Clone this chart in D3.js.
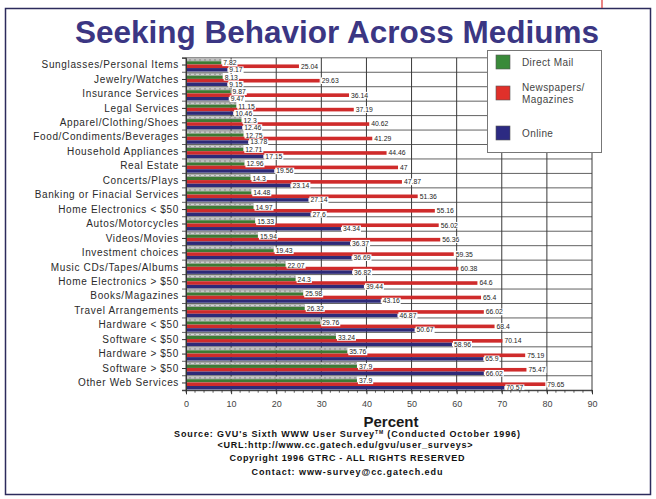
<!DOCTYPE html>
<html>
<head>
<meta charset="utf-8">
<script src="https://cdn.jsdelivr.net/npm/d3@7"></script>
<style>
  html, body { margin: 0; padding: 0; background: #fff; }
  svg { display: block; font-family: Arial, "Liberation Sans", sans-serif; }
</style>
</head>
<body>
<svg id="chart" width="656" height="499"></svg>
<script>
// Survey categories, top to bottom
const categories = [
  "Sunglasses/Personal Items", "Jewelry/Watches", "Insurance Services", "Legal Services",
  "Apparel/Clothing/Shoes", "Food/Condiments/Beverages", "Household Appliances", "Real Estate",
  "Concerts/Plays", "Banking or Finacial Services", "Home Electronics < $50", "Autos/Motorcycles",
  "Videos/Movies", "Investment choices", "Music CDs/Tapes/Albums", "Home Electronics > $50",
  "Books/Magazines", "Travel Arrangements", "Hardware < $50", "Software < $50",
  "Hardware > $50", "Software > $50", "Other Web Services"
];
// Percent of respondents seeking information in each medium
const directMail = [7.82, 8.13, 9.87, 11.15, 12.3, 12.75, 12.71, 12.96, 14.3, 14.48, 14.97, 15.33,
  15.94, 19.43, 22.07, 24.3, 25.98, 26.32, 29.76, 33.24, 35.76, 37.9, 37.9];
const newspapers = [25.04, 29.63, 36.14, 37.19, 40.62, 41.29, 44.46, 47, 47.87, 51.36, 55.16, 56.02,
  56.36, 59.35, 60.38, 64.6, 65.4, 66.02, 68.4, 70.14, 75.19, 75.47, 79.65];
const online = [9.17, 9.15, 9.47, 10.46, 12.46, 13.78, 17.15, 19.56, 23.14, 27.14, 27.6, 34.34,
  36.37, 36.69, 36.82, 39.44, 43.16, 46.87, 50.67, 58.96, 65.9, 66.02, 70.57];
const xTicks = [0, 10, 20, 30, 40, 50, 60, 70, 80, 90];
const seriesNames = ["Direct Mail", "Newspapers/\nMagazines", "Online"];

const colors = { mail: "#3d7a35", paper: "#cf2b2b", online: "#2d2a78", face: "#a3a3a3" };

const svg = d3.select("#chart");

// outer frame
svg.append("rect").attr("x", 5.5).attr("y", 8.5).attr("width", 645).attr("height", 486)
  .attr("fill", "#fff").attr("stroke", "#2c2b5c").attr("stroke-width", 1.5);
svg.append("line").attr("x1", 602).attr("x2", 602).attr("y1", 0).attr("y2", 8)
  .attr("stroke", "#d33").attr("stroke-width", 1.2);

// title
svg.append("text").attr("x", 337).attr("y", 43).attr("text-anchor", "middle")
  .attr("font-size", 31.5).attr("font-weight", "bold").attr("fill", "#3b3683")
  .text("Seeking Behavior Across Mediums");

const x = d3.scaleLinear().domain([0, 90]).range([186, 592]);
const y = d3.scaleBand().domain(categories).range([57.8, 390.2]).padding(0);
const bw = y.bandwidth();

// sub-bar layout within each category band (fractions of band height)
const seg = { face: [0.05, 0.24], mail: [0.24, 0.46], paper: [0.46, 0.71], online: [0.71, 0.95] };

const plot = svg.append("g");

// grid
plot.selectAll("line.vg").data(xTicks).join("line")
  .attr("x1", d => x(d)).attr("x2", d => x(d))
  .attr("y1", y.range()[0]).attr("y2", y.range()[1])
  .attr("stroke", "#3a3a3a").attr("stroke-width", 1);
const bounds = categories.map(c => y(c)).concat([y.range()[1]]);
plot.selectAll("line.hg").data(bounds).join("line")
  .attr("x1", x(0) - 4).attr("x2", x(90))
  .attr("y1", d => d).attr("y2", d => d)
  .attr("stroke", "#3a3a3a").attr("stroke-width", 0.8);

// bars
const rows = categories.map((c, i) => ({ c, mail: directMail[i], paper: newspapers[i], online: online[i] }));
function bars(key, fill, valueKey) {
  plot.append("g").selectAll("rect").data(rows).join("rect")
    .attr("x", x(0))
    .attr("y", d => y(d.c) + bw * seg[key][0])
    .attr("width", d => x(d[valueKey]) - x(0))
    .attr("height", bw * (seg[key][1] - seg[key][0]))
    .attr("fill", fill);
}
bars("face", colors.face, "mail");
bars("mail", colors.mail, "mail");
bars("paper", colors.paper, "paper");
bars("online", colors.online, "online");

// light dashes across the top face of the direct-mail bars
plot.append("g").selectAll("line").data(rows).join("line")
  .attr("x1", x(0)).attr("x2", d => x(d.mail))
  .attr("y1", d => y(d.c) + bw * 0.145).attr("y2", d => y(d.c) + bw * 0.145)
  .attr("stroke", "#e6e6e6").attr("stroke-width", 0.8).attr("stroke-dasharray", "3,2");

// value labels with white backing
const labels = plot.append("g").attr("font-size", 6.8).attr("fill", "#222");
function valueLabels(key, valueKey) {
  rows.forEach(d => {
    const v = d[valueKey];
    const cy = y(d.c) + bw * (seg[key][0] + seg[key][1]) / 2;
    const g = labels.append("g");
    const r = g.append("rect").attr("fill", "#fff");
    const t = g.append("text").attr("x", x(v) + 2).attr("y", cy + 2.4).text(String(v));
    const w = t.node().getComputedTextLength();
    r.attr("x", x(v) + 1).attr("y", cy - 3.3).attr("width", w + 2).attr("height", 6.6);
  });
}
valueLabels("mail", "mail");
valueLabels("online", "online");
valueLabels("paper", "paper");

// category axis
const yAxis = svg.append("g").attr("transform", `translate(${x(0)},0)`)
  .call(d3.axisLeft(y).tickSize(4).tickPadding(3));
yAxis.select(".domain").attr("stroke", "#333");
yAxis.selectAll(".tick line").attr("stroke", "#333");
yAxis.selectAll(".tick text").attr("font-size", 10).attr("fill", "#2a2a2a")
  .attr("letter-spacing", 0.65)
  .attr("font-family", "Arial, 'Liberation Sans', sans-serif");

// value axis with minor ticks
const xAxis = svg.append("g").attr("transform", `translate(0,${y.range()[1]})`)
  .call(d3.axisBottom(x).tickValues(xTicks).tickSize(4).tickPadding(6));
xAxis.select(".domain").attr("stroke", "#333");
xAxis.selectAll(".tick line").attr("stroke", "#333");
xAxis.selectAll(".tick text").attr("font-size", 9).attr("fill", "#444")
  .attr("font-family", "Arial, 'Liberation Sans', sans-serif");
svg.append("g").selectAll("line").data(d3.range(0, 91, 2)).join("line")
  .attr("x1", d => x(d)).attr("x2", d => x(d))
  .attr("y1", y.range()[1]).attr("y2", y.range()[1] + 2.5)
  .attr("stroke", "#333").attr("stroke-width", 0.8);

svg.append("text").attr("x", 391).attr("y", 427).attr("text-anchor", "middle")
  .attr("font-size", 15).attr("font-weight", "bold").attr("fill", "#1a1a1a").text("Percent");

// legend
const lg = svg.append("g");
lg.append("rect").attr("x", 487.5).attr("y", 50.5).attr("width", 114).attr("height", 102)
  .attr("fill", "#fff").attr("stroke", "#777").attr("stroke-width", 1);
const legendItems = [
  { name: seriesNames[0], color: "#3a8a3a", y: 55 },
  { name: seriesNames[1], color: "#e0302a", y: 86 },
  { name: seriesNames[2], color: "#2c2a82", y: 126 }
];
legendItems.forEach(it => {
  lg.append("rect").attr("x", 496).attr("y", it.y).attr("width", 14).attr("height", 14)
    .attr("fill", it.color).attr("stroke", "#555").attr("stroke-width", 0.6);
  const lines = it.name.split("\n");
  const t = lg.append("text").attr("font-size", 10).attr("letter-spacing", 0.4).attr("fill", "#444");
  lines.forEach((s, k) => {
    t.append("tspan").attr("x", 522)
      .attr("y", it.y + (lines.length > 1 ? 5 + k * 12 : 11)).text(s);
  });
});

// source notes
const notes = svg.append("g").attr("text-anchor", "middle").attr("font-weight", "bold")
  .attr("font-size", 9).attr("fill", "#111");
const n1 = notes.append("text").attr("x", 347).attr("y", 437)
  .attr("textLength", 346).attr("lengthAdjust", "spacing");
n1.append("tspan").text("Source: GVU's Sixth WWW User Survey");
n1.append("tspan").attr("font-size", 5).attr("dy", -3).text("TM");
n1.append("tspan").attr("dy", 3).text(" (Conducted October 1996)");
notes.append("text").attr("x", 345).attr("y", 448).attr("textLength", 255).attr("lengthAdjust", "spacing")
  .text("<URL:http://www.cc.gatech.edu/gvu/user_surveys>");
notes.append("text").attr("x", 347).attr("y", 461).attr("textLength", 235).attr("lengthAdjust", "spacing")
  .text("Copyright 1996 GTRC -  ALL RIGHTS RESERVED");
notes.append("text").attr("x", 347).attr("y", 475).attr("textLength", 191).attr("lengthAdjust", "spacing")
  .text("Contact: www-survey@cc.gatech.edu");
</script>
</body>
</html>
